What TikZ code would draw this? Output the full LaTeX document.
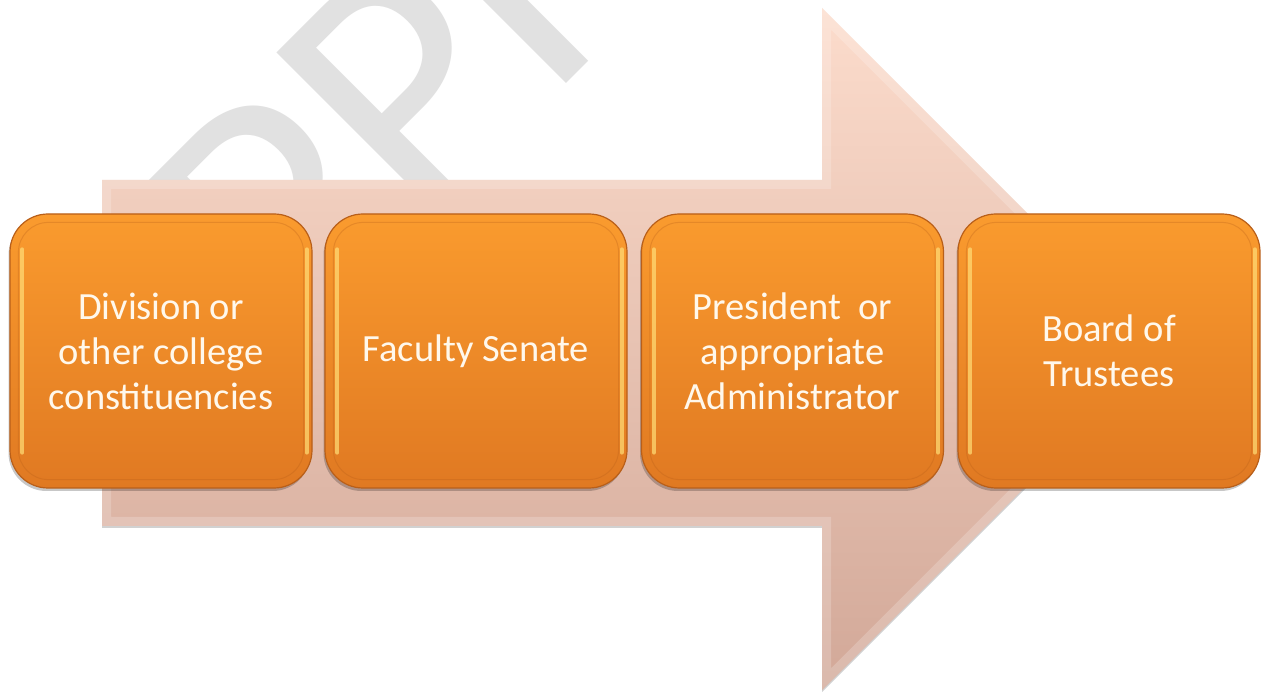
\documentclass[tikz,border=0pt]{standalone}
\usepackage{fontspec}
\setmainfont{Carlito}
\newfontfamily\wmfont{Carlito}
\usetikzlibrary{shadows}
\definecolor{wmgray}{RGB}{225,225,225}
\definecolor{arrtop}{RGB}{252,220,204}
\definecolor{arrbot}{RGB}{210,168,152}
\definecolor{boxtop}{RGB}{250,155,46}
\definecolor{boxbot}{RGB}{224,121,34}
\definecolor{boxedge}{RGB}{185,95,25}
\definecolor{boxhl}{RGB}{255,222,120}
\definecolor{txt}{RGB}{255,248,236}
\begin{document}
\begin{tikzpicture}[x=1pt,y=1pt,
  stagebox/.style={rectangle, rounded corners=38pt, minimum width=302pt,
    minimum height=274pt, inner sep=0pt, top color=boxtop, bottom color=boxbot,
    draw=boxedge, line width=1.2pt, text=txt, align=center,
    font=\fontsize{38.5}{45}\selectfont,
    drop shadow={shadow xshift=-1.5pt, shadow yshift=-3pt, fill=black, opacity=0.22}},
  hl/.style={draw=boxhl, line width=4pt, line cap=round, opacity=0.7},
  bevel/.style={draw=boxedge, line width=1pt, opacity=0.3, rounded corners=30pt}
]
\useasboundingbox (0,0) rectangle (1261,691);
\clip (0,0) rectangle (1261,691);
\fill[white] (0,0) rectangle (1261,691);

% watermark
\node[rotate=45, anchor=base west, inner sep=0pt, text=wmgray,
  font=\wmfont\fontsize{354}{354}\selectfont] (wm) at (145,185.3) {APPROVED};

% big arrow
\path[top color=arrtop, bottom color=arrbot,
  drop shadow={shadow xshift=0pt, shadow yshift=-2pt, fill=black, opacity=0.18}]
  (102,511) -- (822,511) -- (822,683) -- (1163,342) -- (822,1) -- (822,165) -- (102,165) -- cycle;
\begin{scope}
  \clip (102,511) -- (822,511) -- (822,683) -- (1163,342) -- (822,1) -- (822,165) -- (102,165) -- cycle;
  \draw[white, opacity=0.2, line width=18pt]
    (102,511) -- (822,511) -- (822,683) -- (1163,342) -- (822,1) -- (822,165) -- (102,165) -- cycle;
\end{scope}

% stages
\node[stagebox] (b1) at (161,340) {Division or\\other college\\constituencies};
\node[stagebox] (b2) at (476,340) {Faculty Senate};
\node[stagebox] (b3) at (792.5,340) {President\ \ or\\appropriate\\Administrator};
\node[stagebox] (b4) at (1109,340) {Board of\\Trustees};

\foreach \n in {b1,b2,b3,b4}{
  \draw[bevel] ([shift={(9pt,-9pt)}]\n.north west) rectangle ([shift={(-9pt,9pt)}]\n.south east);
  \draw[hl] ([shift={(13pt,-36pt)}]\n.north west) -- ([shift={(13pt,36pt)}]\n.south west);
  \draw[hl] ([shift={(-6pt,-36pt)}]\n.north east) -- ([shift={(-6pt,36pt)}]\n.south east);
}
\end{tikzpicture}
\end{document}
